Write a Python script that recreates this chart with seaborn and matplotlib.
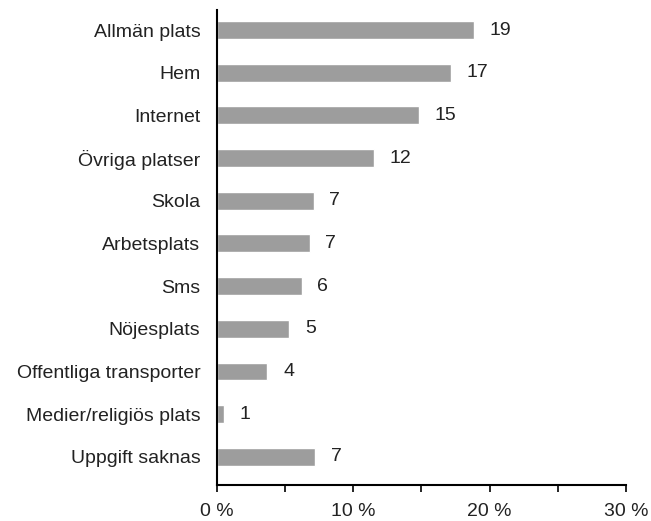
import numpy as np
import pandas as pd
import matplotlib
matplotlib.use("Agg")
import matplotlib.pyplot as plt
import seaborn as sns

categories = ["Allmän plats", "Hem", "Internet", "Övriga platser", "Skola",
              "Arbetsplats", "Sms", "Nöjesplats", "Offentliga transporter",
              "Medier/religiös plats", "Uppgift saknas"]
shares = [18.85, 17.15, 14.8, 11.5, 7.1, 6.8, 6.2, 5.3, 3.7, 0.5, 7.2]
labels = ["19", "17", "15", "12", "7", "7", "6", "5", "4", "1", "7"]
xticks = [0, 5, 10, 15, 20, 25, 30]
xticklabels = ["0 %", "", "10 %", "", "20 %", "", "30 %"]

sns.set_style("white")
plt.rcParams['font.family'] = ['Liberation Sans', 'DejaVu Sans']

df = pd.DataFrame({"plats": categories, "andel": shares})

fig = plt.figure(figsize=(6.51, 5.21), dpi=100)
ax = fig.add_axes([217 / 651, 1 - 485 / 521, (626 - 217) / 651, 475 / 521])

sns.barplot(data=df, y="plats", x="andel", orient="h", color="#9d9d9d",
            saturation=1, width=0.42, ax=ax)

for i, (v, lab) in enumerate(zip(shares, labels)):
    ax.text(v + 1.15, i, lab, va="center", ha="left", fontsize=14, color="#222222")

ax.set_xlim(0, 30)
ax.set_ylim(10.66, -0.47)
ax.set_xticks(xticks)
ax.set_xticklabels(xticklabels, fontsize=14, color="#222222")
ax.tick_params(axis="x", direction="out", length=5, width=1.2, color="black", pad=8, bottom=True)
ax.tick_params(axis="y", length=0, pad=12, labelsize=14, labelcolor="#222222")
ax.set_xlabel("")
ax.set_ylabel("")

for s in ["top", "right"]:
    ax.spines[s].set_visible(False)
for s in ["left", "bottom"]:
    ax.spines[s].set_color("black")
    ax.spines[s].set_linewidth(1.5)

fig.savefig("out.png", dpi=100)
